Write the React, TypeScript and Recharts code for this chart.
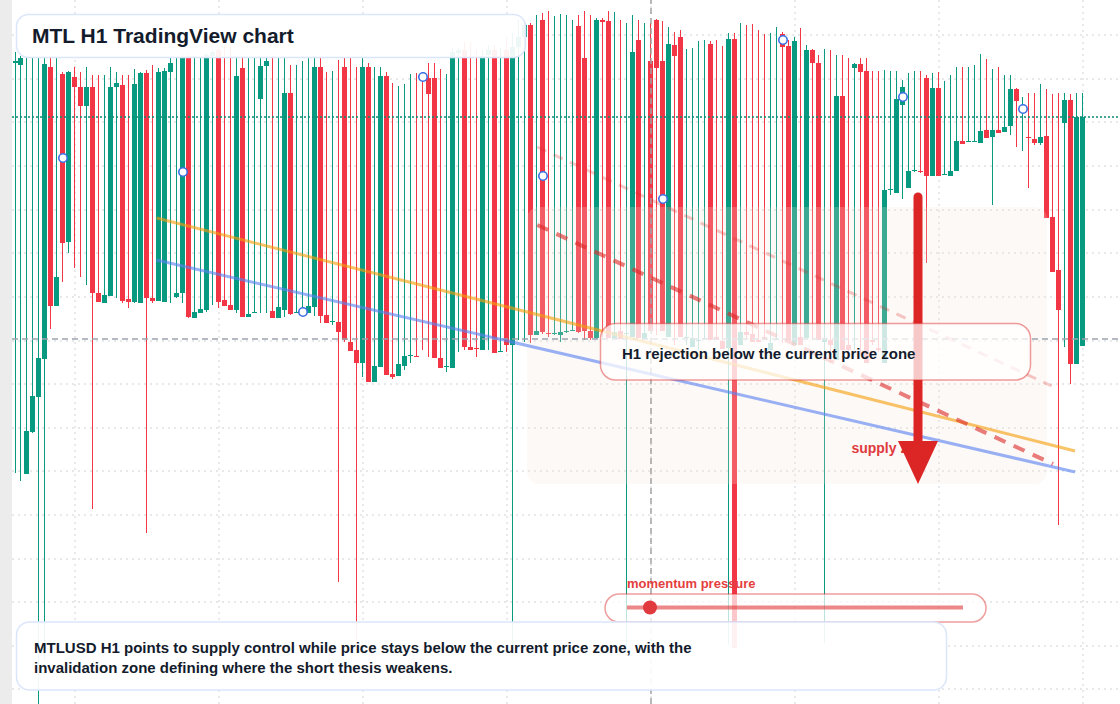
import {
  ComposedChart,
  Bar,
  Scatter,
  XAxis,
  YAxis,
  CartesianGrid,
  ReferenceLine,
  ReferenceArea,
  ReferenceDot,
} from "recharts";

// MTLUSD H1 candles
const opens = [
  0.4641, 0.4639, 0.423, 0.4272, 0.4307, 0.4345, 0.4637, 0.4398, 0.463, 0.4462,
  0.4627, 0.4617, 0.4598, 0.4617, 0.4411, 0.4401, 0.4408, 0.4617, 0.4619, 0.4405,
  0.4402, 0.4401, 0.4631, 0.4406, 0.4403, 0.4402, 0.4632, 0.4407, 0.4411, 0.4647,
  0.4386, 0.4391, 0.4394, 0.4648, 0.4654, 0.4404, 0.4399, 0.4394, 0.4636, 0.4387,
  0.4391, 0.4605, 0.4638, 0.4393, 0.4386, 0.4394, 0.4611, 0.4391, 0.4391, 0.4391,
  0.4397, 0.4637, 0.4389, 0.4382, 0.4382, 0.4637, 0.4362, 0.4354, 0.4341, 0.4637,
  0.4322, 0.4337, 0.4628, 0.433, 0.4328, 0.4338, 0.4348, 0.4348, 0.4627, 0.4626,
  0.4626, 0.4346, 0.4337, 0.4336, 0.4651, 0.4654, 0.4357, 0.4356, 0.4354, 0.4649,
  0.4654, 0.4352, 0.4654, 0.4359, 0.4657, 0.4667, 0.4679, 0.4369, 0.4684, 0.4371,
  0.437, 0.4369, 0.4372, 0.4373, 0.4678, 0.4646, 0.4373, 0.4366, 0.4684, 0.4683,
  0.4365, 0.4373, 0.437, 0.4367, 0.4664, 0.4365, 0.4643, 0.4684, 0.4643, 0.4367,
  0.4659, 0.4667, 0.4366, 0.4357, 0.4363, 0.4365, 0.466, 0.4367, 0.4363, 0.4356,
  0.4665, 0.4359, 0.4372, 0.437, 0.4364, 0.4367, 0.4354, 0.4364, 0.467, 0.4658,
  0.4359, 0.4367, 0.4366, 0.4654, 0.4641, 0.4362, 0.4364, 0.4344, 0.4608, 0.4359,
  0.4636, 0.464, 0.4633, 0.4364, 0.4356, 0.4341, 0.4514, 0.4511, 0.4599, 0.4516,
  0.4533, 0.4533, 0.4626, 0.4528, 0.4616, 0.4529, 0.4528, 0.4533, 0.4563, 0.4562,
  0.4562, 0.4561, 0.4574, 0.4567, 0.4574, 0.4572, 0.4578, 0.4615, 0.4594, 0.4567,
  0.4565, 0.4561, 0.4568, 0.4487, 0.4434, 0.4581, 0.4604, 0.434, 0.4358,
];
const highs = [
  0.4652, 0.4648, 0.4646, 0.4646, 0.4646, 0.4646, 0.4646, 0.4646, 0.4632, 0.4633,
  0.4637, 0.4632, 0.4637, 0.4629, 0.4629, 0.4629, 0.4637, 0.4632, 0.4629, 0.4629,
  0.4635, 0.4632, 0.4634, 0.4639, 0.4636, 0.4636, 0.4646, 0.4646, 0.4649, 0.4649,
  0.4646, 0.4646, 0.4651, 0.4654, 0.4656, 0.4659, 0.4657, 0.4646, 0.4646, 0.4646,
  0.4646, 0.4646, 0.4646, 0.4646, 0.4646, 0.4646, 0.4639, 0.4639, 0.4643, 0.4646,
  0.4646, 0.4646, 0.4632, 0.4633, 0.4644, 0.4646, 0.4646, 0.4637, 0.4649, 0.4641,
  0.4637, 0.4637, 0.4632, 0.4621, 0.4618, 0.462, 0.463, 0.4631, 0.4632, 0.4641,
  0.4641, 0.4635, 0.463, 0.4656, 0.4657, 0.4662, 0.4662, 0.4654, 0.4654, 0.4659,
  0.4659, 0.4656, 0.4666, 0.4671, 0.4684, 0.4682, 0.4681, 0.4689, 0.4691, 0.4693,
  0.4688, 0.469, 0.4689, 0.4684, 0.4689, 0.4693, 0.4689, 0.4686, 0.4686, 0.4693,
  0.4692, 0.4684, 0.4681, 0.4689, 0.4684, 0.4681, 0.4681, 0.4685, 0.4683, 0.4677,
  0.4672, 0.4674, 0.4655, 0.4656, 0.4663, 0.4664, 0.4663, 0.4664, 0.4658, 0.4671,
  0.4671, 0.4681, 0.4679, 0.468, 0.4674, 0.467, 0.4671, 0.4677, 0.4672, 0.4664,
  0.4667, 0.4676, 0.4659, 0.4655, 0.4649, 0.4655, 0.4654, 0.4649, 0.4649, 0.4646,
  0.4641, 0.4646, 0.4646, 0.4633, 0.4633, 0.4634, 0.4633, 0.4633, 0.4624, 0.4631,
  0.4633, 0.4633, 0.4629, 0.4631, 0.4632, 0.4623, 0.4629, 0.4637, 0.4637, 0.4637,
  0.4639, 0.465, 0.4645, 0.4635, 0.4637, 0.4629, 0.4629, 0.4616, 0.4607, 0.4611,
  0.4611, 0.462, 0.4615, 0.461, 0.4611, 0.4611, 0.461, 0.4611, 0.4611,
];
const lows = [
  0.4231, 0.4223, 0.423, 0.4271, 0.3994, 0.4044, 0.4375, 0.4398, 0.4422, 0.4451,
  0.4436, 0.4427, 0.4419, 0.4195, 0.4402, 0.4401, 0.4408, 0.4406, 0.4401, 0.4396,
  0.4401, 0.4401, 0.4171, 0.4401, 0.4403, 0.4402, 0.4401, 0.4406, 0.4401, 0.4386,
  0.4386, 0.4391, 0.4392, 0.4399, 0.4396, 0.4398, 0.4394, 0.4391, 0.4387, 0.4387,
  0.4391, 0.4391, 0.4391, 0.4386, 0.4386, 0.4387, 0.4389, 0.4391, 0.4391, 0.4391,
  0.4388, 0.4381, 0.4381, 0.4379, 0.4122, 0.4362, 0.4353, 0.4064, 0.4327, 0.4322,
  0.4322, 0.4337, 0.4329, 0.4325, 0.4328, 0.4334, 0.4341, 0.4347, 0.4354, 0.4347,
  0.4346, 0.4336, 0.4332, 0.4336, 0.4352, 0.4354, 0.4354, 0.4347, 0.4354, 0.4354,
  0.4351, 0.4352, 0.4352, 0.4054, 0.4364, 0.4362, 0.4361, 0.4369, 0.437, 0.4367,
  0.4369, 0.4362, 0.4371, 0.4373, 0.4371, 0.4364, 0.4364, 0.4365, 0.4367, 0.4366,
  0.4365, 0.4365, 0.4059, 0.4367, 0.4366, 0.4365, 0.4373, 0.4369, 0.4373, 0.4367,
  0.4359, 0.4367, 0.4359, 0.4357, 0.4354, 0.4365, 0.4364, 0.4364, 0.4355, 0.4059,
  0.4056, 0.4359, 0.4364, 0.4362, 0.4362, 0.4364, 0.4354, 0.4364, 0.4361, 0.4364,
  0.4359, 0.4359, 0.4366, 0.4364, 0.4364, 0.4061, 0.4342, 0.4344, 0.4354, 0.4352,
  0.4354, 0.4349, 0.4341, 0.4359, 0.4352, 0.4341, 0.4509, 0.4511, 0.4505, 0.4516,
  0.4532, 0.4531, 0.4441, 0.4528, 0.4528, 0.4529, 0.4528, 0.4533, 0.456, 0.4562,
  0.4562, 0.4561, 0.4566, 0.4499, 0.4571, 0.4572, 0.4569, 0.4557, 0.4553, 0.4516,
  0.4559, 0.4559, 0.4486, 0.4432, 0.4179, 0.4357, 0.432, 0.434, 0.4358,
];
const closes = [
  0.4643, 0.4646, 0.4273, 0.4308, 0.4346, 0.464, 0.4398, 0.4427, 0.4461, 0.4632,
  0.4617, 0.4598, 0.4617, 0.4411, 0.4402, 0.4409, 0.4617, 0.4621, 0.4403, 0.4402,
  0.462, 0.4631, 0.4406, 0.4403, 0.4632, 0.4633, 0.4641, 0.4411, 0.4647, 0.4387,
  0.4392, 0.4395, 0.4649, 0.4652, 0.4402, 0.4398, 0.4394, 0.4628, 0.4387, 0.439,
  0.4392, 0.4638, 0.4643, 0.4386, 0.4397, 0.4611, 0.439, 0.4392, 0.4393, 0.4398,
  0.4637, 0.4388, 0.4381, 0.4383, 0.4372, 0.4364, 0.4353, 0.4341, 0.4637, 0.4322,
  0.4338, 0.4628, 0.4329, 0.4327, 0.434, 0.4348, 0.4349, 0.4347, 0.4625, 0.461,
  0.4346, 0.4336, 0.4338, 0.4652, 0.4654, 0.4357, 0.4354, 0.4355, 0.4648, 0.4654,
  0.4351, 0.4353, 0.4359, 0.4657, 0.4667, 0.4679, 0.4369, 0.4373, 0.4372, 0.437,
  0.4371, 0.4372, 0.4373, 0.4374, 0.4372, 0.4373, 0.4366, 0.4684, 0.4682, 0.4366,
  0.4372, 0.4365, 0.4371, 0.4652, 0.4366, 0.4371, 0.4373, 0.4636, 0.4373, 0.466,
  0.4648, 0.4367, 0.4367, 0.4366, 0.4364, 0.4366, 0.4364, 0.4364, 0.4355, 0.4665,
  0.4056, 0.4372, 0.4369, 0.4362, 0.4362, 0.4364, 0.4361, 0.4365, 0.4657, 0.4364,
  0.4663, 0.4359, 0.4654, 0.4641, 0.4364, 0.4366, 0.4359, 0.4608, 0.4354, 0.4354,
  0.464, 0.4632, 0.4341, 0.4362, 0.4354, 0.4514, 0.4515, 0.4605, 0.4617, 0.4533,
  0.4534, 0.4532, 0.4528, 0.4616, 0.4528, 0.453, 0.4533, 0.4563, 0.456, 0.4563,
  0.4563, 0.4573, 0.4566, 0.4574, 0.4571, 0.4577, 0.4615, 0.4603, 0.4596, 0.4566,
  0.4561, 0.4567, 0.4486, 0.4432, 0.4394, 0.4604, 0.434, 0.4587, 0.4587,
];

// blue signal markers every 20 candles
const markerCandles = [8, 28, 48, 68, 88, 108, 128, 148, 168];
const markerPrices = [0.4546, 0.4532, 0.4392, 0.4627, 0.4528, 0.4505, 0.4664, 0.4607, 0.4595];

const gridPrices = [
  0.4669, 0.4625, 0.4582, 0.4538, 0.4494, 0.4451, 0.4407, 0.4363, 0.432, 0.4276,
  0.4233, 0.4189, 0.4145, 0.4102, 0.4058, 0.4015,
];
const gridCandles = [10, 34, 58, 82, 106, 130, 154, 178];

const lastPrice = 0.4587;
const currentZone = 0.4365;
const crosshairCandle = 106;

// drawn levels (candle index, price)
const orangeTrend = [{ x: 23.6, y: 0.4486 }, { x: 176.67, y: 0.4253 }];
const blueTrend = [{ x: 23.6, y: 0.4444 }, { x: 176.67, y: 0.4232 }];
const redTrend = [{ x: 87.05, y: 0.4479 }, { x: 173.0, y: 0.424 }];
const pinkTrend = [{ x: 87.05, y: 0.4557 }, { x: 172.78, y: 0.4318 }];
const supplyZone = { x1: 85.33, x2: 172.0, y1: 0.422, y2: 0.4497 };
const arrowShaft = [{ x: 150.5, y: 0.4507 }, { x: 150.5, y: 0.4262 }];
const arrowHead = { x: 150.5, y: 0.4263 };
const supplyLabel = { x: 139.4, y: 0.4251 };

const UP = "#089981";
const DOWN = "#f23645";
const FONT = "'Liberation Sans', Arial, sans-serif";

const candles = opens.map((o, i) => ({
  i,
  open: o,
  high: highs[i],
  low: lows[i],
  close: closes[i],
  range: [lows[i], highs[i]],
}));

const markers = markerCandles.map((c, k) => ({ i: c, v: markerPrices[k] }));

const Candle = (props: any) => {
  const { x, y, width, height, payload } = props;
  if (x == null || y == null) return null;
  const { open, close, high, low } = payload;
  const top = Math.min(y, y + height);
  const h = Math.abs(height);
  const k = h / (high - low || 1);
  const yOf = (v: number) => top + (high - v) * k;
  const color = close >= open ? UP : DOWN;
  const cx = Math.round(x + width / 2);
  const bTop = yOf(Math.max(open, close));
  const bBot = yOf(Math.min(open, close));
  return (
    <g>
      <line x1={cx + 0.5} x2={cx + 0.5} y1={top} y2={top + h} stroke={color} strokeWidth={1} />
      <rect x={cx - 2} y={bTop} width={5} height={Math.max(1, bBot - bTop)} fill={color} />
    </g>
  );
};

const Marker = (props: any) => {
  const { cx, cy } = props;
  if (cx == null) return null;
  return <circle cx={cx} cy={cy} r={4.2} fill="#fff" stroke="#3b6fe6" strokeWidth={1.6} />;
};

export default function App() {
  return (
    <div style={{ position: "absolute", left: 0, top: 0, width: 1120, height: 704, background: "#fff", overflow: "hidden" }}>
      <div style={{ position: "absolute", left: 0, top: 0, width: 12, height: 704, background: "#ececec" }} />
      <div style={{ position: "absolute", left: 0, top: 0 }}>
        <ComposedChart width={1120} height={704} data={candles} margin={{ top: 0, right: 0, bottom: 0, left: 12 }}>
          <CartesianGrid
            stroke="#cfd2d6"
            strokeDasharray="2 4"
            horizontalValues={gridPrices}
            verticalValues={gridCandles}
          />
          <XAxis type="number" dataKey="i" domain={[-0.5, 184.1667]} hide allowDataOverflow />
          <YAxis type="number" domain={[0.4, 0.4704]} hide allowDataOverflow />
          <Bar dataKey="range" barSize={5} shape={Candle} isAnimationActive={false} />
          <ReferenceArea
            x1={supplyZone.x1}
            x2={supplyZone.x2}
            y1={supplyZone.y1}
            y2={supplyZone.y2}
            fill="#f4e2d6"
            fillOpacity={0.22}
            stroke="none"
            radius={12}
            zIndex={350}
          />
          <ReferenceLine y={lastPrice} stroke="#0b8a72" strokeWidth={1.5} strokeDasharray="2 2" />
          <ReferenceLine y={currentZone} stroke="#9ca3af" strokeWidth={1.5} strokeDasharray="6 4" />
          <ReferenceLine x={crosshairCandle} stroke="#a3a3a3" strokeWidth={1.5} strokeDasharray="6 4" />
          <ReferenceLine segment={pinkTrend} stroke="#dc2626" strokeOpacity={0.25} strokeWidth={3} strokeDasharray="10 8" />
          <ReferenceLine segment={orangeTrend} stroke="#f59e0b" strokeOpacity={0.62} strokeWidth={3} />
          <ReferenceLine segment={blueTrend} stroke="#5b82f0" strokeOpacity={0.62} strokeWidth={3} />
          <ReferenceLine segment={redTrend} stroke="#dc2626" strokeOpacity={0.6} strokeWidth={4} strokeDasharray="12 9" />
          <Scatter data={markers} dataKey="v" shape={Marker} isAnimationActive={false} />
          <ReferenceDot
            x={supplyLabel.x}
            y={supplyLabel.y}
            shape={(p: any) => (
              <text x={p.cx} y={p.cy} fontFamily={FONT} fontSize={14} fontWeight={700} fill="#e03a3e">
                supply zone
              </text>
            )}
          />
          <ReferenceLine segment={arrowShaft} stroke="#dc2626" strokeWidth={9} strokeLinecap="round" />
          <ReferenceDot
            x={arrowHead.x}
            y={arrowHead.y}
            shape={(p: any) => (
              <path d={`M${p.cx - 20},${p.cy} L${p.cx + 20},${p.cy} L${p.cx},${p.cy + 43} Z`} fill="#dc2626" />
            )}
          />
        </ComposedChart>
      </div>
      <svg width={1120} height={704} style={{ position: "absolute", left: 0, top: 0, pointerEvents: "none" }} fontFamily={FONT}>
        <rect x={16.5} y={14.5} width={509} height={43} rx={12} fill="rgba(255,255,255,0.93)" stroke="#dbe6fb" strokeWidth={1.5} />
        <text x={32} y={43.3} fontSize={21} fontWeight={700} fill="#131b2c">
          MTL H1 TradingView chart
        </text>

        <rect x={600.5} y={323.5} width={430} height={56.5} rx={15} fill="rgba(255,255,255,0.75)" stroke="rgba(220,38,38,0.45)" strokeWidth={1.5} />
        <text x={622} y={359} fontSize={15} fontWeight={700} fill="#131b2c">
          H1 rejection below the current price zone
        </text>

        <text x={627} y={587.5} fontSize={13} fontWeight={700} fill="#e53e3e">
          momentum pressure
        </text>
        <rect x={605} y={594} width={381} height={28} rx={14} fill="rgba(255,255,255,0.72)" stroke="rgba(220,38,38,0.45)" strokeWidth={1.5} />
        <line x1={627} x2={963} y1={607.5} y2={607.5} stroke="rgba(220,38,38,0.55)" strokeWidth={4} />
        <circle cx={650} cy={607.5} r={7} fill="#e0393e" />

        <rect x={16.5} y={622} width={930} height={68} rx={13} fill="rgba(255,255,255,0.93)" stroke="#dbe6fb" strokeWidth={1.5} />
        <text x={34} y={653} fontSize={15} fontWeight={700} fill="#131b2c">
          MTLUSD H1 points to supply control while price stays below the current price zone, with the
        </text>
        <text x={34} y={673} fontSize={15} fontWeight={700} fill="#131b2c">
          invalidation zone defining where the short thesis weakens.
        </text>
      </svg>
    </div>
  );
}
